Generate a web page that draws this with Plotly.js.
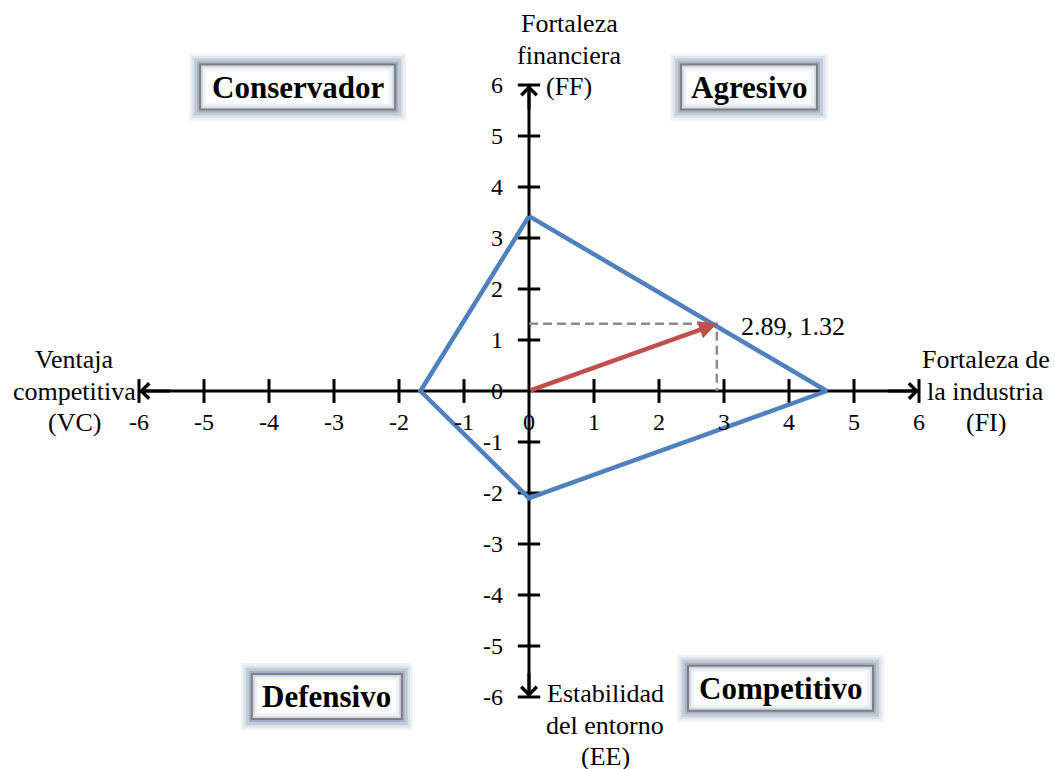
<!DOCTYPE html>
<html>
<head>
<meta charset="utf-8">
<script src="https://cdn.plot.ly/plotly-3.0.1.min.js"></script>
<style>
  html, body { margin: 0; padding: 0; background: #fff; }
  #plot { width: 1055px; height: 769px; }
</style>
</head>
<body>
<div id="plot"></div>
<script>
// PEYEA-style strategic position chart
const ticks = [-6, -5, -4, -3, -2, -1, 0, 1, 2, 3, 4, 5, 6];
const axisLimit = 6;
// polygon: FF (top), FI (right), EE (bottom), VC (left)
const polyX = [0, 4.58, 0, -1.67, 0];
const polyY = [3.43, 0, -2.1, 0, 3.43];
const result = [2.89, 1.32];
const quadrants = ['Conservador', 'Agresivo', 'Defensivo', 'Competitivo'];
const axisNames = [
  ['Fortaleza', 'financiera', '(FF)'],
  ['Ventaja', 'competitiva', '(VC)'],
  ['Fortaleza de', 'la industria', '(FI)'],
  ['Estabilidad', 'del entorno', '(EE)']
];

const FONT = 'Liberation Serif, Times New Roman, serif';
const BLUE = '#4F81BD', RED = '#C0504D';

const noTick = ticks.filter(v => v !== 0);

const traces = [
  // axes lines (under everything)
  { x: [-axisLimit, axisLimit], y: [0, 0], mode: 'lines', line: { color: '#000', width: 3 }, hoverinfo: 'skip' },
  { x: [0, 0], y: [-axisLimit, axisLimit], mode: 'lines', line: { color: '#000', width: 3 }, hoverinfo: 'skip' },
  // tick marks
  { x: noTick, y: noTick.map(() => 0), mode: 'markers', hoverinfo: 'skip',
    marker: { symbol: 'line-ns', size: 17, line: { color: '#000', width: 3 } } },
  { x: noTick.map(() => 0), y: noTick, mode: 'markers', hoverinfo: 'skip',
    marker: { symbol: 'line-ew', size: 16, line: { color: '#000', width: 3 } } },
  // dashed guides to the result point
  { x: [0, result[0], result[0]], y: [result[1], result[1], 0], mode: 'lines', hoverinfo: 'skip',
    line: { color: '#8c8c8c', width: 2.5, dash: '9px,5px' } },
  // strategic polygon
  { x: polyX, y: polyY, mode: 'lines', hoverinfo: 'skip', line: { color: BLUE, width: 4.5 } },
];

const ann = [];
const shapes = [];

// arrow heads on the axes
[[axisLimit, 0, axisLimit - 0.5, 0], [-axisLimit, 0, -axisLimit + 0.5, 0],
 [0, axisLimit, 0, axisLimit - 0.5], [0, -axisLimit, 0, -axisLimit + 0.5]].forEach(([x, y, ax, ay]) => {
  ann.push({ x, y, ax, ay, xref: 'x', yref: 'y', axref: 'x', ayref: 'y', text: '',
    showarrow: true, arrowhead: 4, arrowsize: 1, arrowwidth: 3, arrowcolor: '#000' });
});

// tick labels
ticks.forEach(v => {
  ann.push({ x: v, y: 0, text: String(v), showarrow: false, yshift: -31,
    font: { family: FONT, size: 24, color: '#000' } });
  ann.push({ x: 0, y: v, text: String(v), showarrow: false, xanchor: 'right', xshift: -24,
    font: { family: FONT, size: 24, color: '#000' } });
});

// result vector
ann.push({ x: result[0], y: result[1], ax: 0, ay: 0, xref: 'x', yref: 'y', axref: 'x', ayref: 'y',
  text: '', showarrow: true, arrowhead: 2, arrowsize: 0.8, arrowwidth: 4.5, arrowcolor: RED });
ann.push({ x: result[0], y: result[1], text: result[0] + ', ' + result[1], showarrow: false,
  xanchor: 'left', xshift: 22, yshift: -3, font: { family: FONT, size: 26, color: '#000' } });

// axis names, one line each (tight Word-like line spacing)
const namePos = [[0.62, 6.588], [-7.0, 0], [7.03, 0], [1.17, -6.55]];
axisNames.forEach((lines, i) => {
  lines.forEach((t, j) => {
    ann.push({ x: namePos[i][0], y: namePos[i][1], text: t, showarrow: false, yshift: (1 - j) * 31.5,
      font: { family: FONT, size: 26, color: '#000' } });
  });
});

// quadrant boxes with soft glow (pixel-sized rects anchored at data points)
const boxPos = [[-3.56, 5.96], [3.385, 5.96], [-3.11, -5.99], [3.87, -5.83]];
const boxW = [195, 136, 150, 185];
const H = 45;
const glow = [[22, '#f0f2f6'], [17, '#dde3eb'], [12, '#c2ccd9'], [6, '#a5b2c4']];
quadrants.forEach((q, i) => {
  const [x, y] = boxPos[i], W = boxW[i];
  const rect = (w, h, fill, line) => ({
    type: 'rect', xref: 'x', yref: 'y', xsizemode: 'pixel', ysizemode: 'pixel',
    xanchor: x, yanchor: y, x0: -w / 2, x1: w / 2, y0: -h / 2, y1: h / 2,
    fillcolor: fill, line: line || { width: 0 }
  });
  glow.forEach(([d, c]) => shapes.push(rect(W + d, H + d, c)));
  shapes.push(rect(W, H, '#d3dae5', { color: '#7f7f7f', width: 2 }));
  shapes.push(rect(W - 6, H - 6, '#eef1f5'));
  shapes.push(rect(W - 12, H - 12, '#ffffff'));
  ann.push({ x, y, text: '<b>' + q + '</b>', showarrow: false,
    font: { family: FONT, size: 31, color: '#000' } });
});

const layout = {
  width: 1055, height: 769, autosize: false,
  margin: { l: 0, r: 0, t: 0, b: 0 },
  paper_bgcolor: '#fff', plot_bgcolor: '#fff',
  showlegend: false,
  xaxis: { range: [-529 / 65, (1055 - 529) / 65], visible: false, fixedrange: true },
  yaxis: { range: [-(769 - 391) / 51, 391 / 51], visible: false, fixedrange: true },
  shapes,
  annotations: ann,
};

Plotly.newPlot('plot', traces, layout, { displayModeBar: false, staticPlot: true });
</script>
</body>
</html>
